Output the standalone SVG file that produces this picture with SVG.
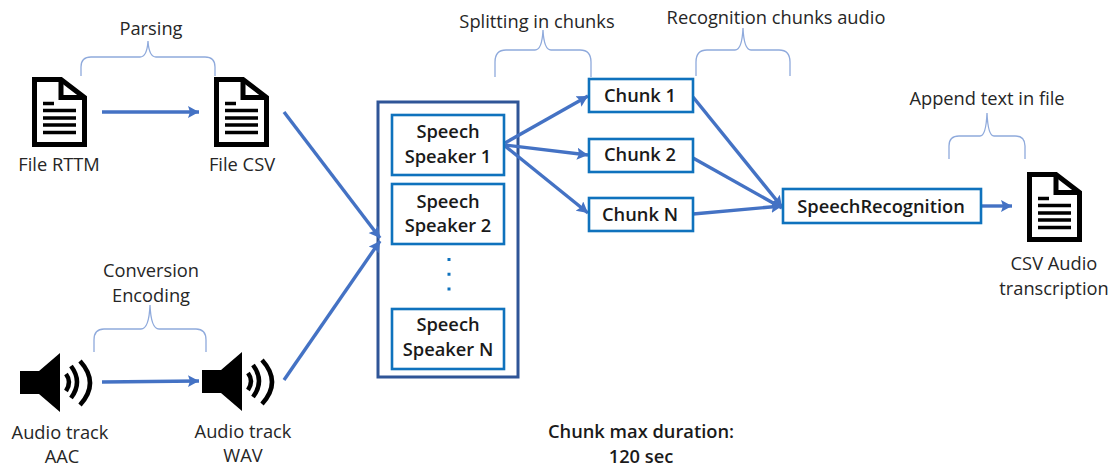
<svg xmlns="http://www.w3.org/2000/svg" width="1112" height="466" viewBox="0 0 1112 466">
<defs>
<style>
text{font-family:"Open Sans","Noto Sans","Liberation Sans",sans-serif;font-size:18.300px;fill:#262626;text-anchor:middle}
.b{font-weight:600;fill:#1a1a1a}
.box{fill:#fff;stroke:#0f72bd;stroke-width:2.600}
.c{fill:none;stroke:#4472c4;stroke-width:3.400;marker-end:url(#a)}
.br{fill:none;stroke:#8faadc;stroke-width:1.300}
</style>
<marker id="a" markerUnits="userSpaceOnUse" markerWidth="13" markerHeight="14" refX="11" refY="6" orient="auto"><path d="M0 0L11 6L0 12L2 6Z" fill="#4472c4"/></marker>
<g id="doc">
<path d="M34.500 79.500H61L84.500 97.500V144.500H34.500Z" fill="#fff" stroke="#000" stroke-width="5"/>
<path d="M61 79V97.500H84" fill="none" stroke="#000" stroke-width="5"/>
<path d="M43 103.500H54M43 110.500H76M43 118H76M43 125H76M43 132.500H76" stroke="#000" stroke-width="3.400"/>
</g>
<g id="spk">
<path d="M20 371H39L60 353V412L39 394H20Z" fill="#000"/>
<path d="M66 374Q72 382 66 391M71 366Q83 382 71 398M80 361Q100 383 80 405" fill="none" stroke="#000" stroke-width="4.500"/>
</g>
</defs>

<g id="speech-container"><rect x="378" y="102" width="140" height="275" fill="none" stroke="#2f5597" stroke-width="3"/></g>

<g id="connectors">
<path class="c" d="M102 112H199"/>
<path class="c" d="M284 112L380 238"/>
<path class="c" d="M102 382L199 381"/>
<path class="c" d="M284 380L380 241"/>
<path class="c" d="M505 143L588 96"/>
<path class="c" d="M505 145L588 155"/>
<path class="c" d="M505 146L588 213"/>
<path class="c" d="M693 97L782 207"/>
<path class="c" d="M693 158L782 208"/>
<path class="c" d="M693 214L782 206"/>
<path class="c" d="M982 206L1012 206"/>
</g>

<g id="bracket-parsing"><path class="br" d="M81 76V67Q81 57 91 57H140Q147 57 148 41Q149 57 156 57H205Q215 57 215 67V76"/></g>
<g id="label-parsing"><text x="151" y="35">Parsing</text></g>
<g id="bracket-conversion"><path class="br" d="M94 352V340Q94 329 104 329H141Q149 329 150 305Q151 329 159 329H196Q206 329 206 340V352"/></g>
<g id="label-conversion"><text x="151" y="277">Conversion</text><text x="151" y="302">Encoding</text></g>
<g id="bracket-splitting"><path class="br" d="M495 77V62Q495 50 506 50H535Q542 50 543 30Q544 50 551 50H580Q591 50 591 62V77"/></g>
<g id="label-splitting"><text x="537" y="28">Splitting in chunks</text></g>
<g id="bracket-recognition"><path class="br" d="M696 76V62Q696 50 707 50H735Q742 50 743 28Q744 50 751 50H779Q790 50 790 62V76"/></g>
<g id="label-recognition"><text x="776" y="24">Recognition chunks audio</text></g>
<g id="bracket-append"><path class="br" d="M949 159V146Q949 136 959 136H980Q986 136 987 113Q988 136 994 136H1015Q1025 136 1025 146V159"/></g>
<g id="label-append"><text x="987" y="105">Append text in file</text></g>

<g id="file-rttm"><use href="#doc"/><text x="59" y="171">File RTTM</text></g>
<g id="file-csv"><use href="#doc" x="182"/><text x="242" y="171">File CSV</text></g>
<g id="audio-aac"><use href="#spk"/><text x="60" y="439">Audio track</text><text x="62" y="463">AAC</text></g>
<g id="audio-wav"><use href="#spk" x="182" y="-1"/><text x="243" y="438">Audio track</text><text x="243" y="462">WAV</text></g>

<g id="speaker-1"><rect class="box" x="392" y="115" width="112" height="60"/><text class="b" x="448" y="138">Speech</text><text class="b" x="448" y="163">Speaker 1</text></g>
<g id="speaker-2"><rect class="box" x="392" y="184" width="112" height="60"/><text class="b" x="448" y="208">Speech</text><text class="b" x="448" y="232">Speaker 2</text></g>
<g id="dots"><path d="M449 258V302" fill="none" stroke="#0f72bd" stroke-width="3" stroke-dasharray="3 11.700"/></g>
<g id="speaker-n"><rect class="box" x="392" y="309" width="112" height="60"/><text class="b" x="448" y="331">Speech</text><text class="b" x="448" y="356">Speaker N</text></g>
<g id="chunk-1"><rect class="box" x="589" y="79" width="104" height="33"/><text class="b" x="640" y="102">Chunk 1</text></g>
<g id="chunk-2"><rect class="box" x="589" y="139" width="104" height="33"/><text class="b" x="640" y="161">Chunk 2</text></g>
<g id="chunk-n"><rect class="box" x="589" y="198" width="104" height="33"/><text class="b" x="640" y="221">Chunk N</text></g>
<g id="speech-recognition"><rect class="box" x="783" y="189" width="198" height="34"/><text class="b" x="881" y="213">SpeechRecognition</text></g>
<g id="csv-transcription"><use href="#doc" x="995" y="95"/><text x="1054" y="270">CSV Audio</text><text x="1054" y="295">transcription</text></g>
<g id="note"><text class="b" x="641" y="438">Chunk max duration:</text><text class="b" x="641" y="463">120 sec</text></g>
</svg>
